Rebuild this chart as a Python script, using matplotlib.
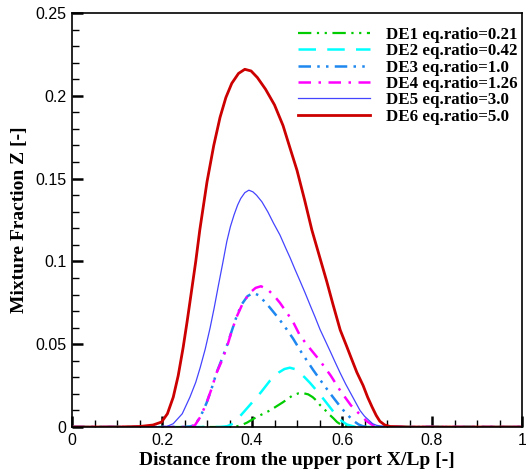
import matplotlib
matplotlib.use("Agg")
import matplotlib.pyplot as plt
from matplotlib.ticker import MultipleLocator, FixedLocator

# ---- data ----
de6_x = [0, 0.10, 0.15, 0.18, 0.199, 0.212, 0.225, 0.236, 0.247, 0.256, 0.265, 0.275, 0.284, 0.30, 0.315, 0.329, 0.342, 0.355, 0.37, 0.384, 0.398, 0.412, 0.43, 0.45, 0.469, 0.485, 0.50, 0.517, 0.533, 0.55, 0.566, 0.58, 0.596, 0.61, 0.62, 0.633, 0.647, 0.657, 0.667, 0.676, 0.684, 0.695, 0.707, 0.75, 1]
de6_y = [0, 0, 0.0003, 0.0012, 0.003, 0.008, 0.018, 0.031, 0.048, 0.064, 0.081, 0.100, 0.119, 0.148, 0.170, 0.187, 0.199, 0.2075, 0.2135, 0.216, 0.215, 0.211, 0.204, 0.1945, 0.182, 0.168, 0.155, 0.137, 0.119, 0.103, 0.088, 0.074, 0.0586, 0.049, 0.042, 0.033, 0.025, 0.018, 0.012, 0.007, 0.0035, 0.0012, 0.0003, 0, 0]

de5_x = [0, 0.15, 0.21, 0.225, 0.245, 0.262, 0.275, 0.285, 0.296, 0.307, 0.316, 0.325, 0.335, 0.344, 0.352, 0.36, 0.368, 0.375, 0.384, 0.393, 0.402, 0.41, 0.422, 0.435, 0.448, 0.462, 0.475, 0.485, 0.495, 0.507, 0.518, 0.53, 0.54, 0.551, 0.563, 0.575, 0.585, 0.596, 0.608, 0.62, 0.63, 0.64, 0.65, 0.66, 0.668, 0.677, 0.70, 1]
de5_y = [0, 0, 0.0002, 0.002, 0.008, 0.018, 0.027, 0.036, 0.047, 0.060, 0.072, 0.085, 0.099, 0.112, 0.121, 0.128, 0.134, 0.138, 0.1415, 0.143, 0.142, 0.140, 0.136, 0.130, 0.123, 0.116, 0.108, 0.102, 0.0955, 0.088, 0.081, 0.073, 0.0665, 0.059, 0.052, 0.045, 0.039, 0.0326, 0.026, 0.020, 0.015, 0.010, 0.0065, 0.004, 0.002, 0.001, 0, 0]

de4_x = [0, 0.25, 0.262, 0.273, 0.285, 0.299, 0.31, 0.321, 0.333, 0.344, 0.355, 0.366, 0.38, 0.395, 0.408, 0.42, 0.435, 0.45, 0.462, 0.48, 0.491, 0.507, 0.53, 0.551, 0.575, 0.596, 0.62, 0.64, 0.655, 0.669, 0.69, 1]
de4_y = [0, 0, 0.0003, 0.001, 0.006, 0.0145, 0.023, 0.0326, 0.040, 0.048, 0.058, 0.0666, 0.075, 0.081, 0.084, 0.085, 0.083, 0.079, 0.075, 0.068, 0.0636, 0.055, 0.047, 0.040, 0.031, 0.022, 0.013, 0.0075, 0.0035, 0.001, 0, 0]

de3_x = [0, 0.25, 0.262, 0.272, 0.285, 0.299, 0.31, 0.321, 0.333, 0.344, 0.355, 0.366, 0.377, 0.39, 0.403, 0.415, 0.427, 0.44, 0.452, 0.462, 0.477, 0.491, 0.51, 0.536, 0.558, 0.58, 0.60, 0.624, 0.637, 0.647, 0.67, 1]
de3_y = [0, 0, 0.0003, 0.001, 0.006, 0.0145, 0.023, 0.0326, 0.041, 0.049, 0.058, 0.067, 0.074, 0.079, 0.081, 0.0795, 0.076, 0.072, 0.068, 0.0646, 0.059, 0.0535, 0.045, 0.0344, 0.026, 0.018, 0.011, 0.004, 0.0015, 0.0004, 0, 0]

de2_x = [0, 0.33, 0.345, 0.358, 0.375, 0.396, 0.42, 0.44, 0.46, 0.472, 0.484, 0.495, 0.505, 0.517, 0.529, 0.55, 0.573, 0.59, 0.60, 0.611, 0.63, 1]
de2_y = [0, 0, 0.0005, 0.002, 0.007, 0.0135, 0.021, 0.028, 0.033, 0.035, 0.0358, 0.035, 0.033, 0.030, 0.0266, 0.020, 0.012, 0.006, 0.0035, 0.0015, 0, 0]

de1_x = [0, 0.36, 0.375, 0.388, 0.41, 0.44, 0.469, 0.49, 0.503, 0.513, 0.525, 0.535, 0.545, 0.551, 0.56, 0.57, 0.58, 0.589, 0.60, 0.62, 1]
de1_y = [0, 0, 0.001, 0.0025, 0.006, 0.010, 0.015, 0.019, 0.0203, 0.0205, 0.0197, 0.018, 0.0155, 0.0133, 0.011, 0.008, 0.0055, 0.003, 0.001, 0, 0]

labels = ["DE1 eq.ratio=0.21", "DE2 eq.ratio=0.42", "DE3 eq.ratio=1.0",
          "DE4 eq.ratio=1.26", "DE5 eq.ratio=3.0", "DE6 eq.ratio=5.0"]
x_ticks = [0, 0.2, 0.4, 0.6, 0.8, 1.0]
x_ticklabels = ["0", "0.2", "0.4", "0.6", "0.8", "1"]
y_ticks = [0, 0.05, 0.1, 0.15, 0.2, 0.25]
y_ticklabels = ["0", "0.05", "0.1", "0.15", "0.2", "0.25"]

fig = plt.figure(figsize=(5.26, 4.74), dpi=100)
ax = fig.add_axes([72/526, 1-427/474, 450/526, 414/474])

ax.plot(de1_x, de1_y, color="#00CC00", lw=1.6, ls=(0, (6, 2.5, 1, 2.5, 1, 2.5)), label=labels[0])
ax.plot(de2_x, de2_y, color="#00FFFF", lw=1.8, ls=(0, (7, 4.5)), label=labels[1])
ax.plot(de3_x, de3_y, color="#1E88F0", lw=1.8, ls=(0, (5, 2.5, 1, 2.5, 1, 2.5)), label=labels[2])
ax.plot(de4_x, de4_y, color="#FF00FF", lw=1.8, ls=(0, (5, 3, 1, 3)), label=labels[3])
ax.plot(de5_x, de5_y, color="#4444FF", lw=0.9, ls="-", label=labels[4])
ax.plot(de6_x, de6_y, color="#CC0000", lw=2.0, ls="-", label=labels[5])

ax.set_xlim(0, 1)
ax.set_ylim(0, 0.25)
ax.xaxis.set_major_locator(FixedLocator(x_ticks))
ax.set_xticklabels(x_ticklabels)
ax.yaxis.set_major_locator(FixedLocator(y_ticks))
ax.set_yticklabels(y_ticklabels)
ax.xaxis.set_minor_locator(MultipleLocator(0.05))
ax.yaxis.set_minor_locator(MultipleLocator(0.01))
ax.tick_params(which="major", direction="in", length=8, width=1.8, labelsize=11.5, pad=4)
ax.tick_params(which="minor", direction="in", length=5, width=1.0)
for lab in ax.get_xticklabels() + ax.get_yticklabels():
    lab.set_fontfamily("Liberation Sans")
for s in ax.spines.values():
    s.set_linewidth(1.2)

serif = "Liberation Serif"
ax.set_xlabel("Distance from the upper port X/Lp [-]", fontfamily=serif, fontweight="bold", fontsize=14, labelpad=3)
ax.set_ylabel("Mixture Fraction Z [-]", fontfamily=serif, fontweight="bold", fontsize=14, labelpad=5)

leg = ax.legend(loc="upper right", bbox_to_anchor=(1.014, 0.993), frameon=False,
                prop={"family": serif, "weight": "bold", "size": 12.2},
                handlelength=4.3, handletextpad=0.9, labelspacing=0.02, borderaxespad=0.25)

fig.savefig("out.png", dpi=100)
